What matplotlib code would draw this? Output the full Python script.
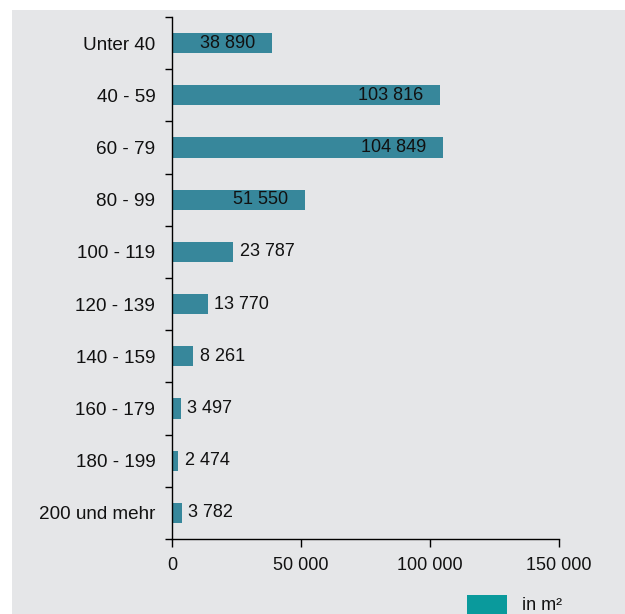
import matplotlib.pyplot as plt
from matplotlib.patches import Rectangle

plt.rcParams['font.family'] = ['Liberation Sans', 'DejaVu Sans']

# Wohnungsgrößen (m²) und Anzahl
categories = ['Unter 40', '40 - 59', '60 - 79', '80 - 99', '100 - 119',
              '120 - 139', '140 - 159', '160 - 179', '180 - 199', '200 und mehr']
values = [38890, 103816, 104849, 51550, 23787, 13770, 8261, 3497, 2474, 3782]
xticks = [0, 50000, 100000, 150000]

bar_color = '#37879b'
legend_color = '#0a9a9c'
bg = '#e5e6e8'
fs = 13

def fmt(v):
    return f'{v:,}'.replace(',', ' ')

fig = plt.figure(figsize=(6.25, 6.14), dpi=100)
fig.patches.append(Rectangle((12 / 625, 0), 1, 604 / 614, transform=fig.transFigure,
                             facecolor=bg, edgecolor='none', zorder=-1))

ax = fig.add_axes([172 / 625, 75 / 614, 387 / 625, 522 / 614])
ax.set_facecolor('none')

n = len(categories)
ypos = list(range(n))
ax.barh(ypos, values, height=0.39, color=bar_color)
ax.set_ylim(n - 0.5, -0.5)
ax.set_xlim(0, 150000)

for y, v in zip(ypos, values):
    if v > 30000:
        ax.annotate(fmt(v), (v, y), xytext=(-12, 0), textcoords='offset points',
                    ha='right', va='center', fontsize=fs, color='#111111')
    else:
        ax.annotate(fmt(v), (v, y), xytext=(4.5, 0), textcoords='offset points',
                    ha='left', va='center', fontsize=fs, color='#111111')

# ticks on category boundaries, labels at centres
ax.set_yticks([i - 0.5 for i in range(n + 1)])
ax.set_yticklabels([])
ax.set_yticks(ypos, minor=True)
ax.set_yticklabels(categories, minor=True, fontsize=13.6, color='#111111')
ax.tick_params(axis='y', which='minor', length=0, pad=12)
ax.tick_params(axis='y', which='major', length=5, width=1, direction='out')

ax.set_xticks(xticks)
ax.set_xticklabels([fmt(t) for t in xticks], fontsize=fs, color='#111111')
ax.tick_params(axis='x', length=6, width=1, direction='out', pad=7)

for s in ('top', 'right'):
    ax.spines[s].set_visible(False)
for s in ('left', 'bottom'):
    ax.spines[s].set_linewidth(1)
    ax.spines[s].set_color('black')

# legend
fig.patches.append(Rectangle((467 / 625, 0), 40 / 625, 19 / 614, transform=fig.transFigure,
                             facecolor=legend_color, edgecolor='none'))
fig.text(522 / 625, 8 / 614, 'in m²', fontsize=fs, va='center', ha='left', color='#111111')

fig.savefig('out.png', dpi=100)
